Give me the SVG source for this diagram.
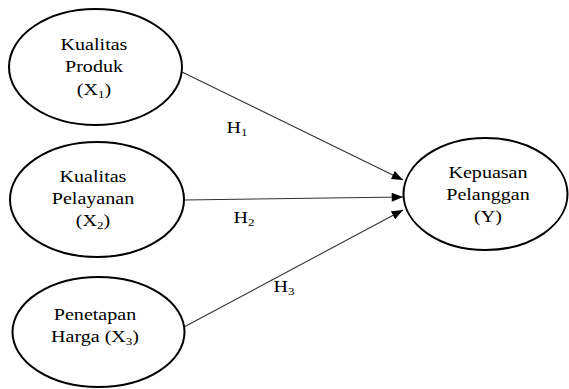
<svg xmlns="http://www.w3.org/2000/svg" width="569" height="389" viewBox="0 0 569 389">
<defs>
<marker id="ah" viewBox="0 0 10 8" refX="10" refY="4" markerWidth="12" markerHeight="9" markerUnits="userSpaceOnUse" orient="auto">
<path d="M0,0 L10,4 L0,8 Z" fill="#000"/>
</marker>
<style>
.n{fill:#fff;stroke:#000;stroke-width:2}
.t{font-family:"Liberation Serif","Times New Roman",serif;font-size:17px;fill:#000;text-anchor:middle}
.s{font-size:11px}
.c{stroke:#333;stroke-width:1.1;fill:none;marker-end:url(#ah)}
</style>
</defs>
<rect width="569" height="389" fill="#fff"/>
<g id="connectors">
<line class="c" x1="182" y1="72" x2="403" y2="180"/>
<line class="c" x1="184" y1="200" x2="403" y2="197"/>
<line class="c" x1="184" y1="327" x2="403" y2="210"/>
<g transform="translate(237,0) scale(1.18,1)"><text class="t" x="0" y="133">H<tspan class="s" dy="3">1</tspan></text></g>
<g transform="translate(244,0) scale(1.18,1)"><text class="t" x="0" y="223">H<tspan class="s" dy="3">2</tspan></text></g>
<g transform="translate(284,0) scale(1.18,1)"><text class="t" x="0" y="292">H<tspan class="s" dy="3">3</tspan></text></g>
</g>
<g id="x1">
<ellipse class="n" cx="95.5" cy="67" rx="86.5" ry="58"/>
<g transform="translate(94,0) scale(1.18,1)">
<text class="t" x="0" y="50">Kualitas</text>
<text class="t" x="0" y="72">Produk</text>
<text class="t" x="0" y="95">(X<tspan class="s" dy="3">1</tspan><tspan dy="-3">)</tspan></text>
</g>
</g>
<g id="x2">
<ellipse class="n" cx="97" cy="199.5" rx="87" ry="57.5"/>
<g transform="translate(93,0) scale(1.18,1)">
<text class="t" x="0" y="182">Kualitas</text>
<text class="t" x="0" y="204">Pelayanan</text>
<text class="t" x="0" y="226">(X<tspan class="s" dy="3">2</tspan><tspan dy="-3">)</tspan></text>
</g>
</g>
<g id="x3">
<ellipse class="n" cx="98.5" cy="332" rx="86" ry="55"/>
<g transform="translate(95,0) scale(1.18,1)">
<text class="t" x="0" y="320">Penetapan</text>
<text class="t" x="0" y="342">Harga (X<tspan class="s" dy="3">3</tspan><tspan dy="-3">)</tspan></text>
</g>
</g>
<g id="y">
<ellipse class="n" cx="485.5" cy="194" rx="82" ry="56"/>
<g transform="translate(488,0) scale(1.18,1)">
<text class="t" x="0" y="178">Kepuasan</text>
<text class="t" x="0" y="200">Pelanggan</text>
<text class="t" x="0" y="222">(Y)</text>
</g>
</g>
</svg>
